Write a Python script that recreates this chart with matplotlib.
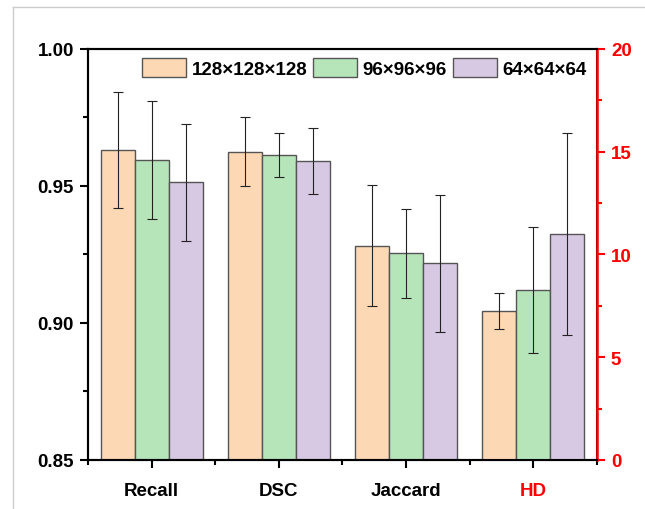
import numpy as np
from matplotlib import pyplot as plt
from matplotlib.lines import Line2D
from matplotlib.ticker import MultipleLocator

plt.rcParams['font.family'] = ['Liberation Sans', 'DejaVu Sans']
plt.rcParams['font.weight'] = 'bold'

categories = ['Recall', 'DSC', 'Jaccard', 'HD']
series = ['128×128×128', '96×96×96', '64×64×64']
colors = ['#FDD8B4', '#B6E5BA', '#D7C9E4']

# left axis metrics (Recall, DSC, Jaccard)
means_left = [
    [0.9631, 0.9625, 0.9282],
    [0.9595, 0.9612, 0.9254],
    [0.9513, 0.9592, 0.9218],
]
errs_left = [
    [0.0213, 0.0125, 0.0220],
    [0.0216, 0.0081, 0.0163],
    [0.0213, 0.0120, 0.0250],
]
# right axis metric (HD)
means_hd = [7.24, 8.27, 10.98]
errs_hd = [0.87, 3.07, 4.91]

fig = plt.figure(figsize=(6.45, 5.1), dpi=100)
ax = fig.add_axes([0.1364, 0.0961, 0.7892, 0.8059])
ax2 = ax.twinx()

w = 0.2667
x = np.arange(1, 4)
ekw = dict(ecolor='#222222', elinewidth=0.8, capsize=3.5, capthick=0.8)
handles = []
for i in range(3):
    off = (i - 1) * w
    b = ax.bar(x + off, means_left[i], w, yerr=errs_left[i], color=colors[i],
               edgecolor='#555555', linewidth=1.0, error_kw=ekw, label=series[i])
    handles.append(b)
    ax2.bar(4 + off, means_hd[i], w, yerr=errs_hd[i], color=colors[i],
            edgecolor='#555555', linewidth=1.0, error_kw=ekw)

ax.set_xlim(0.5, 4.5)
ax.set_ylim(0.85, 1.00)
ax2.set_ylim(0, 20)

ax.set_xticks([1, 2, 3, 4])
ax.set_xticklabels(categories, fontsize=13.5, fontweight='bold')
ax.get_xticklabels()[3].set_color('red')
ax.set_xticks([0.5, 1.5, 2.5, 3.5, 4.5], minor=True)

ax.set_yticks([0.85, 0.90, 0.95, 1.00])
ax.set_yticklabels(['0.85', '0.90', '0.95', '1.00'], fontsize=13.5, fontweight='bold')
ax.yaxis.set_minor_locator(MultipleLocator(0.025))

ax2.set_yticks([0, 5, 10, 15, 20])
ax2.set_yticklabels(['0', '5', '10', '15', '20'], fontsize=13.5, fontweight='bold', color='red')
ax2.yaxis.set_minor_locator(MultipleLocator(2.5))

for a in (ax, ax2):
    for s in a.spines.values():
        s.set_linewidth(1.5)
ax2.spines['right'].set_color('red')
ax2.spines['right'].set_linewidth(1.8)

ax.tick_params(axis='both', which='major', direction='out', length=6, width=1.5, pad=4)
ax.tick_params(axis='both', which='minor', direction='out', length=3.5, width=1.5)
ax.tick_params(axis='x', which='major', pad=10)
ax2.tick_params(axis='y', which='major', direction='out', length=6, width=1.5,
                color='red', pad=4)
ax2.tick_params(axis='y', which='minor', direction='out', length=3.5, width=1.5, color='red')

ax.legend(handles=handles, loc='upper left', bbox_to_anchor=(0.106, 0.978), ncol=3,
          frameon=False, handlelength=2.35, handleheight=1.17,
          handletextpad=0.3, columnspacing=0.3, borderpad=0, borderaxespad=0,
          prop={'weight': 'bold', 'size': 13.5})

# light frame around the picture
fig.add_artist(Line2D([13 / 645, 13 / 645], [0, 1 - 8 / 510], transform=fig.transFigure,
                      color='#cccccc', linewidth=1))
fig.add_artist(Line2D([13 / 645, 1], [1 - 8 / 510, 1 - 8 / 510], transform=fig.transFigure,
                      color='#cccccc', linewidth=1))

fig.savefig('out.png', dpi=100)
